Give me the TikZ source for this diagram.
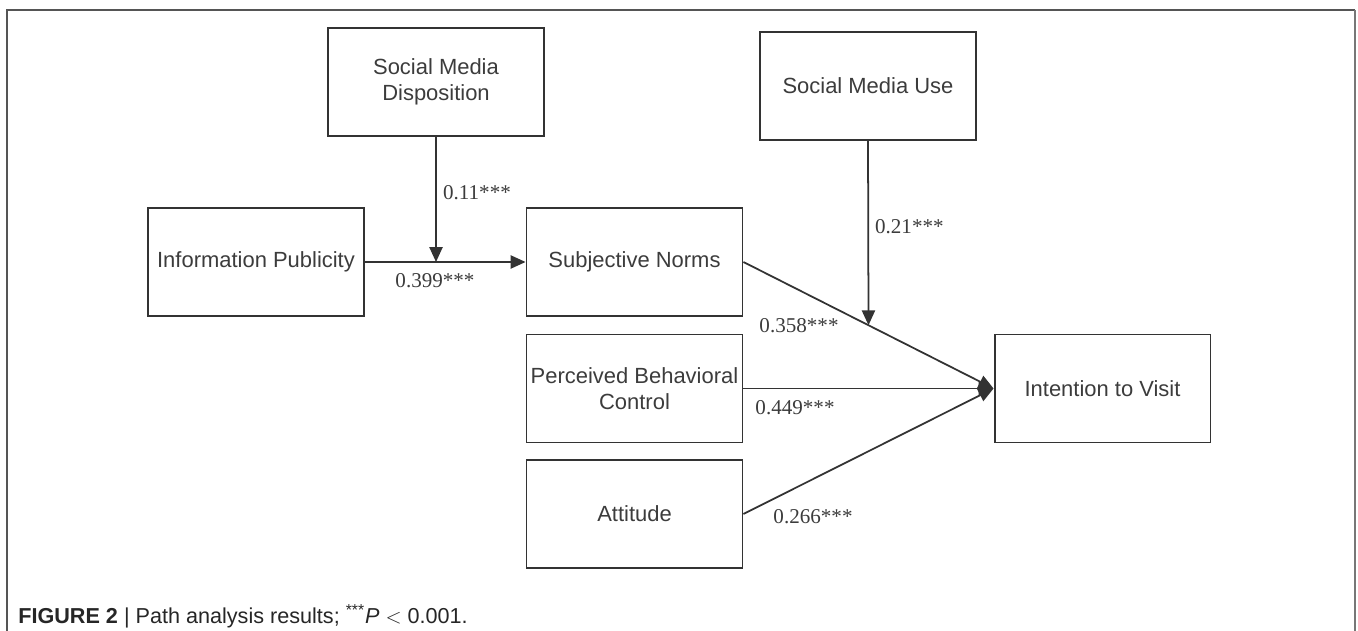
\documentclass[tikz,border=0pt]{standalone}
\usepackage{fontspec}
\setmainfont{Liberation Sans}
\newfontfamily\numfont{Liberation Serif}
\usetikzlibrary{arrows.meta,calc}
\definecolor{boxline}{HTML}{333333}
\definecolor{boxtext}{HTML}{3C3C3C}
\definecolor{frameline}{HTML}{555555}
\begin{document}
\begin{tikzpicture}[x=0.02cm,y=-0.02cm,
  every node/.style={font=\fontsize{12.5pt}{14.5pt}\selectfont},
  boxnode/.style={draw=boxline,line width=1.1pt,minimum width=4.32cm,minimum height=2.16cm,inner sep=0pt,align=center,text=boxtext},
  conn/.style={draw=boxline,line width=1pt},
  arr/.style={conn,-{Triangle[length=8.5pt,width=7.5pt]}},
  coef/.style={font=\numfont\fontsize{12pt}{14pt}\selectfont,text=boxtext,inner sep=1pt}]
\useasboundingbox (0,0) rectangle (1358,631);
\draw[frameline,line width=1pt] (7,631) -- (7,10) -- (1355,10);
\draw[frameline!80,line width=1.6pt] (1355,10) -- (1355,631);

\node[boxnode] (smd) at (436,82) {Social Media\\Disposition};
\node[boxnode] (smu) at (868,86) {Social Media Use};
\node[boxnode] (ip) at (256,262) {Information Publicity};
\node[boxnode] (sn) at (634.5,262) {Subjective Norms};
\node[boxnode] (pbc) at (634.5,388.5) {Perceived Behavioral\\Control};
\node[boxnode] (att) at (634.5,514) {Attitude};
\node[boxnode] (itv) at (1102.5,388.5) {Intention to Visit};

\coordinate (m1) at (smd.south |- ip.east);
\coordinate (m2) at ($(sn.east)!0.5!(itv.west)$);

\draw[arr] (ip.east) -- (sn.west);
\draw[arr] (smd.south) -- (m1);
\draw[arr] (sn.east) -- (itv.west);
\draw[arr] (smu.south) -- (m2);
\draw[arr] (pbc.east) -- (itv.west);
\draw[arr] (att.east) -- (itv.west);

\node[coef,anchor=west] (l1) at (441,193) {0.11***};
\node[coef] (l2) at (435,281) {0.399***};
\node[coef,anchor=west] (l3) at (873,227) {0.21***};
\node[coef] (l4) at (799,326) {0.358***};
\node[coef] (l5) at (795,408) {0.449***};
\node[coef] (l6) at (813,517) {0.266***};

\node[anchor=base west,inner sep=0pt,font=\fontsize{12.3pt}{14pt}\selectfont,text=black!85] (cap) at (18,623)
  {\textbf{FIGURE 2} | Path analysis results; ${}^{\mbox{\small ***}}$\textit{P} $<$ 0.001.};
\end{tikzpicture}
\end{document}
